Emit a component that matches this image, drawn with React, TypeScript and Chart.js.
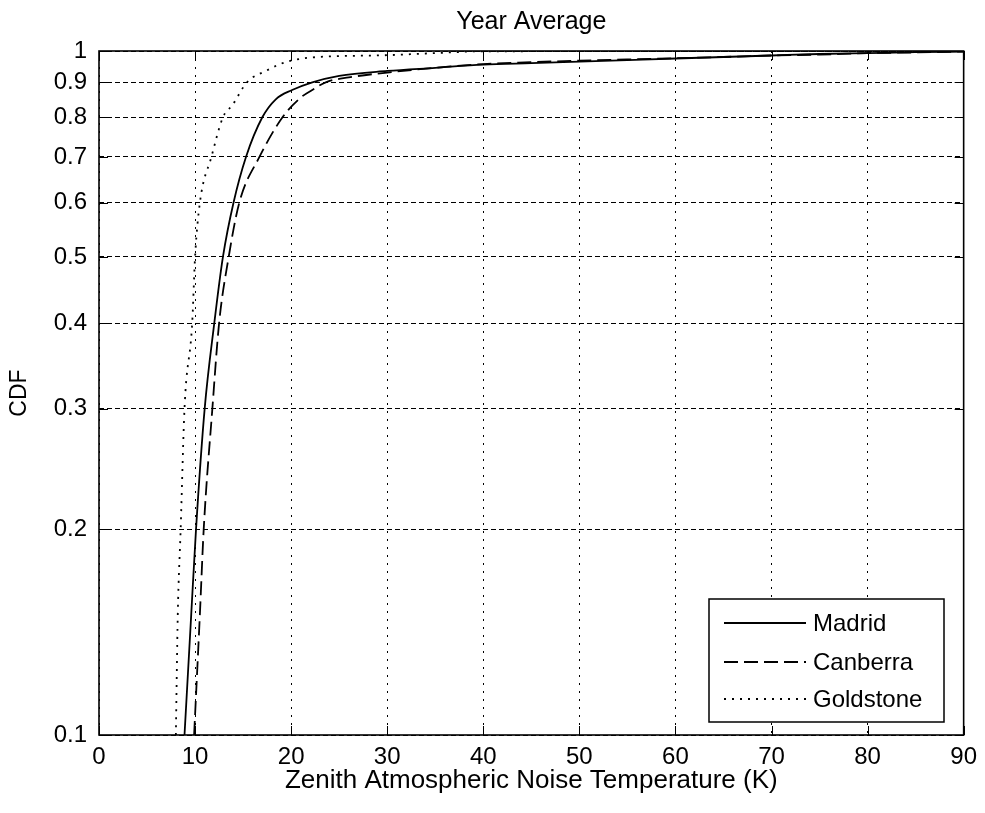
import React, { useEffect, useRef } from 'react';
import { Chart, registerables } from 'chart.js';

Chart.register(...registerables);

const chartTitle = 'Year Average';
const xAxisTitle = 'Zenith Atmospheric Noise Temperature (K)';
const yAxisTitle = 'CDF';

const xTickValues = [0, 10, 20, 30, 40, 50, 60, 70, 80, 90];
const xTickLabels = ['0', '10', '20', '30', '40', '50', '60', '70', '80', '90'];
const yTickValues = [0.1, 0.2, 0.3, 0.4, 0.5, 0.6, 0.7, 0.8, 0.9, 1];
const yTickLabels = ['0.1', '0.2', '0.3', '0.4', '0.5', '0.6', '0.7', '0.8', '0.9', '1'];

const seriesNames = ['Madrid', 'Canberra', 'Goldstone'];

const madridTemp = [8.9, 9.6, 10.1, 11.0, 12.0, 12.9, 14.0, 15.3, 17.0, 18.4, 20.1, 22.2, 25, 30, 35, 40, 45, 50, 55, 60, 65, 70, 75, 80, 85, 90];
const madridCdf = [0.1, 0.15, 0.2, 0.3, 0.4, 0.5, 0.6, 0.7, 0.8, 0.85, 0.877, 0.9, 0.92, 0.935, 0.945, 0.955, 0.96, 0.965, 0.97, 0.975, 0.98, 0.985, 0.99, 0.993, 0.996, 0.998];

const canberraTemp = [9.9, 10.5, 10.9, 11.8, 12.5, 13.5, 14.6, 16.7, 19.1, 21.0, 22.2, 23.6, 26, 30, 35, 40, 45, 50, 55, 60, 65, 70, 75, 80, 85, 90];
const canberraCdf = [0.1, 0.15, 0.2, 0.3, 0.4, 0.5, 0.6, 0.7, 0.8, 0.855, 0.877, 0.9, 0.915, 0.93, 0.945, 0.957, 0.963, 0.968, 0.972, 0.976, 0.98, 0.985, 0.988, 0.993, 0.995, 0.998];

const goldstoneTemp = [8.0, 8.2, 8.5, 8.9, 9.7, 10.0, 10.5, 11.7, 12.9, 13.9, 15.4, 17.5, 18.7, 20.0, 22.0, 30, 35, 40, 90];
const goldstoneCdf = [0.1, 0.15, 0.2, 0.3, 0.4, 0.5, 0.6, 0.7, 0.8, 0.834, 0.9, 0.937, 0.955, 0.968, 0.978, 0.986, 0.993, 0.999, 1.0];

const FONT = "'Liberation Sans', Arial, sans-serif";

const toPoints = (xs: number[], ys: number[]) => xs.map((x, i) => ({ x, y: ys[i] }));

const frameAndLegend = {
  id: 'frameAndLegend',
  afterDraw(chart: any) {
    const { ctx, chartArea: a, scales } = chart;
    ctx.save();
    ctx.setLineDash([]);
    ctx.strokeStyle = '#000';
    ctx.lineWidth = 1;
    const tl = 9;
    ctx.beginPath();
    xTickValues.forEach((v) => {
      const px = Math.round(scales.x.getPixelForValue(v)) + 0.5;
      ctx.moveTo(px, a.bottom);
      ctx.lineTo(px, a.bottom - tl);
      ctx.moveTo(px, a.top);
      ctx.lineTo(px, a.top + tl);
    });
    yTickValues.forEach((v) => {
      const py = Math.round(scales.y.getPixelForValue(v)) + 0.5;
      ctx.moveTo(a.left, py);
      ctx.lineTo(a.left + tl, py);
      ctx.moveTo(a.right, py);
      ctx.lineTo(a.right - tl, py);
    });
    ctx.stroke();
    ctx.lineWidth = 1.6;
    ctx.strokeRect(a.left, a.top, a.right - a.left, a.bottom - a.top);

    // legend box
    const bw = 235;
    const bh = 123;
    const bx = Math.round(a.right - 20 - bw);
    const by = Math.round(a.bottom - 13 - bh);
    ctx.fillStyle = '#fff';
    ctx.fillRect(bx, by, bw, bh);
    ctx.lineWidth = 1.5;
    ctx.strokeRect(bx, by, bw, bh);
    const rows = [24, 63, 100];
    chart.data.datasets.forEach((ds: any, i: number) => {
      const y = by + rows[i];
      ctx.beginPath();
      ctx.lineWidth = ds.borderWidth;
      ctx.setLineDash(ds.borderDash || []);
      ctx.moveTo(bx + 15, y);
      ctx.lineTo(bx + 97, y);
      ctx.stroke();
      ctx.setLineDash([]);
      ctx.fillStyle = '#000';
      ctx.font = `24px ${FONT}`;
      ctx.textAlign = 'left';
      ctx.textBaseline = 'middle';
      ctx.fillText(ds.label, bx + 104, y + 1);
    });
    ctx.restore();
  },
};

export default function App() {
  const canvasRef = useRef<HTMLCanvasElement | null>(null);

  useEffect(() => {
    const canvas = canvasRef.current;
    if (!canvas) return;
    const chart = new Chart(canvas, {
      type: 'line',
      data: {
        datasets: [
          {
            label: seriesNames[0],
            data: toPoints(madridTemp, madridCdf),
            borderColor: '#000',
            borderWidth: 1.8,
            borderDash: [],
            pointRadius: 0,
            fill: false,
            cubicInterpolationMode: 'monotone',
          },
          {
            label: seriesNames[1],
            data: toPoints(canberraTemp, canberraCdf),
            borderColor: '#000',
            borderWidth: 1.8,
            borderDash: [14, 6],
            pointRadius: 0,
            fill: false,
            cubicInterpolationMode: 'monotone',
          },
          {
            label: seriesNames[2],
            data: toPoints(goldstoneTemp, goldstoneCdf),
            borderColor: '#000',
            borderWidth: 1.8,
            borderDash: [2, 6],
            pointRadius: 0,
            fill: false,
            cubicInterpolationMode: 'monotone',
          },
        ],
      },
      options: {
        animation: false,
        responsive: false,
        parsing: false as any,
        layout: { padding: { left: 0, right: 17, top: 0, bottom: 0 } },
        plugins: {
          legend: { display: false },
          title: { display: false },
          tooltip: { enabled: false },
        },
        scales: {
          x: {
            type: 'linear',
            position: 'bottom',
            min: 0,
            max: 90,
            afterBuildTicks: (scale: any) => {
              scale.ticks = xTickValues.map((v) => ({ value: v }));
            },
            afterFit: (scale: any) => {
              scale.height = 78;
            },
            ticks: {
              autoSkip: false,
              maxRotation: 0,
              color: '#000',
              padding: 8,
              font: { family: FONT, size: 24 },
              callback: (value: any) => xTickLabels[xTickValues.indexOf(Number(value))] ?? '',
            },
            grid: { color: '#000', lineWidth: 1, drawTicks: false },
            border: { display: false, dash: [2, 6] },
            title: {
              display: true,
              text: xAxisTitle,
              color: '#000',
              font: { family: FONT, size: 26 },
              padding: { top: 0, bottom: 17 },
            },
          },
          xTop: {
            type: 'linear',
            position: 'top',
            min: 0,
            max: 90,
            afterFit: (scale: any) => {
              scale.height = 51;
            },
            ticks: { display: false },
            grid: { display: false, drawTicks: false },
            border: { display: false },
            title: {
              display: true,
              text: chartTitle,
              color: '#000',
              font: { family: FONT, size: 25 },
              padding: { top: 7, bottom: 0 },
            },
          },
          y: {
            type: 'logarithmic',
            position: 'left',
            min: 0.1,
            max: 1,
            afterBuildTicks: (scale: any) => {
              scale.ticks = yTickValues.map((v) => ({ value: v }));
            },
            afterFit: (scale: any) => {
              scale.width = 99;
            },
            ticks: {
              autoSkip: false,
              color: '#000',
              padding: 12,
              font: { family: FONT, size: 24 },
              callback: (value: any) => {
                const idx = yTickValues.findIndex((v) => Math.abs(v - Number(value)) < 1e-9);
                return idx >= 0 ? yTickLabels[idx] : '';
              },
            },
            grid: { color: '#000', lineWidth: 1, drawTicks: false },
            border: { display: false, dash: [5, 3] },
            title: {
              display: true,
              text: yAxisTitle,
              color: '#000',
              font: { family: FONT, size: 23 },
              padding: { top: 6, bottom: 0 },
            },
          },
        },
      } as any,
      plugins: [frameAndLegend],
    });
    return () => chart.destroy();
  }, []);

  return (
    <div style={{ position: 'fixed', left: 0, top: 0, width: 985, height: 813, background: '#fff' }}>
      <canvas ref={canvasRef} width={985} height={813} style={{ display: 'block' }} />
    </div>
  );
}
